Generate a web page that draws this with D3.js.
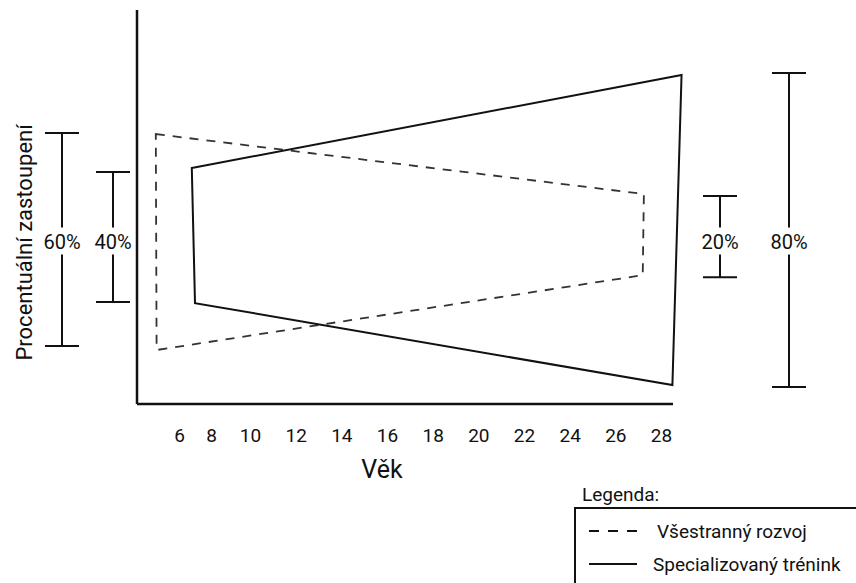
<!DOCTYPE html>
<html>
<head>
<meta charset="utf-8">
<script src="https://cdn.jsdelivr.net/npm/d3@7"></script>
<style>
  body { margin: 0; background: #fff; }
  text { font-family: Roboto, "Liberation Sans", sans-serif; fill: #111; }
</style>
</head>
<body>
<div class="box"></div>
<script>
// DATA

const vekTicks = [6, 8, 10, 12, 14, 16, 18, 20, 22, 24, 26, 28];

// polygon vertices (age, share) - top left, top right, bottom right, bottom left
const vsestrannyVek = [4.55, 27.25, 27.2, 4.6];
const vsestrannyPodil = [68.5, 53.3, 32.7, 13.7];

const specialVek = [6.8, 28.9, 28.5, 7.0];
const specialPodil = [59.9, 83.5, 4.8, 25.6];

// brackets (percent labels)
const zavorkyPopisky = ['60%', '40%', '20%', '80%'];
const zavorkyHorni = [68.8, 58.9, 52.8, 84.0];
const zavorkyDolni = [14.7, 25.9, 32.2, 4.3];

const legendaPopisky = ['Všestranný rozvoj', 'Specializovaný trénink'];

// SETUP

const dims = {width: 856, height: 583};

const svg = d3.select('.box')
              .append('svg')
              .attr('width', dims.width)
              .attr('height', dims.height);

// age axis is not evenly spaced in the original (6-8 narrower)
const x = d3.scaleLinear()
            .domain([6, 8, 10, 28])
            .range([179, 211, 250, 661]);

const y = d3.scaleLinear()
            .domain([0, 100])
            .range([404, 10]);

const plotLeft = 137, plotRight = 673;

// axes lines
svg.append('line')
   .attr('x1', plotLeft).attr('x2', plotLeft)
   .attr('y1', y(100)).attr('y2', y(0))
   .attr('stroke', '#111').attr('stroke-width', 2.5);

svg.append('line')
   .attr('x1', plotLeft).attr('x2', plotRight)
   .attr('y1', y(0)).attr('y2', y(0))
   .attr('stroke', '#111').attr('stroke-width', 2.5);

// tick labels, no tick marks
const xAxis = svg.append('g')
                 .attr('transform', `translate(0, ${y(0)})`)
                 .call(d3.axisBottom(x).tickValues(vekTicks).tickSize(0).tickPadding(25));
xAxis.select('.domain').remove();
xAxis.selectAll('text')
     .style('font-family', 'Roboto, sans-serif')
     .style('font-size', '19px')
     .attr('fill', '#111');

// axis titles
svg.append('text')
   .attr('x', 382).attr('y', 478)
   .attr('text-anchor', 'middle')
   .style('font-size', '25px')
   .text('Věk');

svg.append('text')
   .attr('transform', `translate(32, ${y(41)}) rotate(-90)`)
   .attr('text-anchor', 'middle')
   .style('font-size', '22px')
   .text('Procentuální zastoupení');

// polygons
const line = d3.line()
               .x(d => x(d[0]))
               .y(d => y(d[1]))
               .curve(d3.curveLinearClosed);

svg.append('path')
   .attr('d', line(d3.zip(vsestrannyVek, vsestrannyPodil)))
   .attr('fill', 'none')
   .attr('stroke', '#333')
   .attr('stroke-width', 1.8)
   .attr('stroke-dasharray', '9,8');

svg.append('path')
   .attr('d', line(d3.zip(specialVek, specialPodil)))
   .attr('fill', 'none')
   .attr('stroke', '#111')
   .attr('stroke-width', 2);

// brackets
const zavorkyX = [62, 113, x(28) + 59, x(28) + 128];
const labelY = y(41);

const zavorky = svg.selectAll('.zavorka')
                   .data(zavorkyPopisky.map((p, i) => ({p, top: zavorkyHorni[i], bot: zavorkyDolni[i], cx: zavorkyX[i]})))
                   .enter()
                   .append('g')
                   .attr('class', 'zavorka');

zavorky.append('line')
       .attr('x1', d => d.cx).attr('x2', d => d.cx)
       .attr('y1', d => y(d.top)).attr('y2', labelY - 15)
       .attr('stroke', '#111').attr('stroke-width', 2);
zavorky.append('line')
       .attr('x1', d => d.cx).attr('x2', d => d.cx)
       .attr('y1', labelY + 12).attr('y2', d => y(d.bot))
       .attr('stroke', '#111').attr('stroke-width', 2);
zavorky.append('line')
       .attr('x1', d => d.cx - 17).attr('x2', d => d.cx + 17)
       .attr('y1', d => y(d.top)).attr('y2', d => y(d.top))
       .attr('stroke', '#111').attr('stroke-width', 2);
zavorky.append('line')
       .attr('x1', d => d.cx - 17).attr('x2', d => d.cx + 17)
       .attr('y1', d => y(d.bot)).attr('y2', d => y(d.bot))
       .attr('stroke', '#111').attr('stroke-width', 2);
zavorky.append('text')
       .attr('x', d => d.cx).attr('y', labelY)
       .attr('dy', '0.35em')
       .attr('text-anchor', 'middle')
       .style('font-size', '20px')
       .text(d => d.p);

// legend
const leg = svg.append('g').attr('transform', 'translate(575, 508)');

leg.append('text')
   .attr('x', 7).attr('y', -7)
   .style('font-size', '19px')
   .text('Legenda:');

leg.append('path')
   .attr('d', 'M285,0 H0 V80')
   .attr('fill', 'none')
   .attr('stroke', '#111')
   .attr('stroke-width', 2);

const legItems = leg.selectAll('.item')
                    .data(legendaPopisky)
                    .enter()
                    .append('g')
                    .attr('class', 'item')
                    .attr('transform', (d, i) => `translate(0, ${23 + i * 33})`);

legItems.append('line')
        .attr('x1', 14).attr('x2', 62)
        .attr('y1', 0).attr('y2', 0)
        .attr('stroke', '#111')
        .attr('stroke-width', 2)
        .attr('stroke-dasharray', (d, i) => i === 0 ? '10,9' : null);

legItems.append('text')
        .attr('x', (d, i) => i === 0 ? 82 : 78)
        .attr('y', 0)
        .attr('dy', '0.35em')
        .style('font-size', '19px')
        .text(d => d);
</script>
</body>
</html>
